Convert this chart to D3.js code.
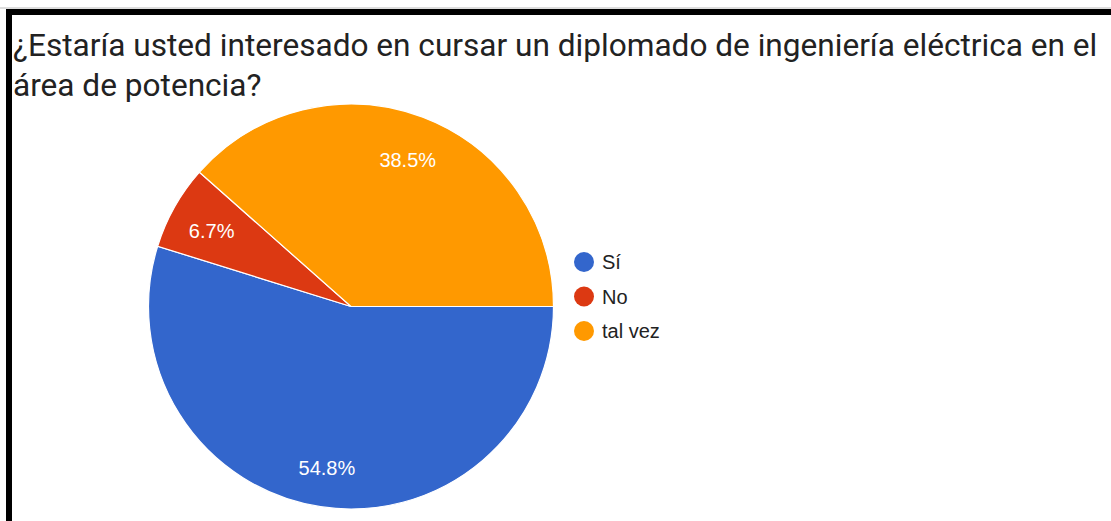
<!DOCTYPE html>
<html>
<head>
<meta charset="utf-8">
<script src="https://cdn.jsdelivr.net/npm/d3@7"></script>
<style>
html,body{margin:0;padding:0;background:#fff;}
svg{display:block;}
</style>
</head>
<body>
<svg id="chart" width="1111" height="521"></svg>
<script>
const titleLines = ["¿Estaría usted interesado en cursar un diplomado de ingeniería eléctrica en el", "área de potencia?"];
const categories = ["Sí", "No", "tal vez"];
const counts = [57, 7, 40];
const percentLabels = ["54.8%", "6.7%", "38.5%"];
const colors = ["#3366cc", "#dc3912", "#ff9900"];

const svg = d3.select("#chart");

// frame
svg.append("rect").attr("x", 0).attr("y", 7.5).attr("width", 1111).attr("height", 1).attr("fill", "#bbb");
svg.append("rect").attr("x", 6).attr("y", 9).attr("width", 1105).attr("height", 6).attr("fill", "#000");
svg.append("rect").attr("x", 6).attr("y", 9).attr("width", 6).attr("height", 512).attr("fill", "#000");

// title
const title = svg.append("g");
titleLines.forEach((t, i) => {
  title.append("text")
    .attr("x", 13).attr("y", 56 + i * 40)
    .attr("font-family", "Roboto, 'Open Sans', sans-serif")
    .attr("font-size", 31.6)
    .attr("fill", "#222")
    .text(t);
});

// pie
const cx = 351, cy = 306.5, R = 202.5, rLabel = 160;
const pie = d3.pie().sort(null)
  .startAngle(Math.PI / 2).endAngle(Math.PI / 2 + 2 * Math.PI);
const arcs = pie(counts);
const arc = d3.arc().innerRadius(0).outerRadius(R);
const labelArc = d3.arc().innerRadius(rLabel).outerRadius(rLabel);

const g = svg.append("g").attr("transform", `translate(${cx},${cy})`);
g.selectAll("path").data(arcs).enter().append("path")
  .attr("d", arc)
  .attr("fill", (d, i) => colors[i])
  .attr("stroke", "#fff").attr("stroke-width", 1.2);

g.selectAll("text.lbl").data(arcs).enter().append("text")
  .attr("class", "lbl")
  .attr("transform", d => { const c = labelArc.centroid(d); return `translate(${c[0]},${c[1] + 3})`; })
  .attr("text-anchor", "middle")
  .attr("dominant-baseline", "central")
  .attr("font-family", "Arial, 'Liberation Sans', sans-serif")
  .attr("font-size", 20)
  .attr("fill", "#fff")
  .text((d, i) => percentLabels[i]);

// legend
const legend = svg.append("g").attr("transform", "translate(584,262)");
const items = legend.selectAll("g").data(categories).enter().append("g")
  .attr("transform", (d, i) => `translate(0,${i * 34.5})`);
items.append("circle").attr("r", 10).attr("fill", (d, i) => colors[i]);
items.append("text")
  .attr("x", 18).attr("y", 0)
  .attr("dominant-baseline", "central")
  .attr("font-family", "Arial, 'Liberation Sans', sans-serif")
  .attr("font-size", 20)
  .attr("fill", "#222")
  .text(d => d);
</script>
</body>
</html>
